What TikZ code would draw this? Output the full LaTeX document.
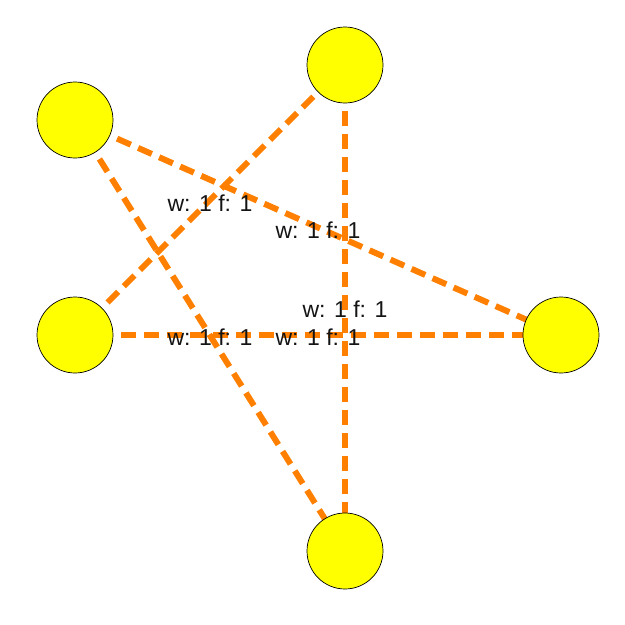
\documentclass[tikz,border=0pt]{standalone}
\usepackage{fontspec}
\setmainfont{Liberation Sans}
\definecolor{nodeyellow}{RGB}{255,255,0}
\definecolor{edgeorange}{RGB}{255,128,0}
\begin{document}
\begin{tikzpicture}[x=1pt,y=-1pt,
  vertex/.style={circle,draw=black,line width=0.7pt,fill=nodeyellow,minimum size=76pt,inner sep=0pt},
  edge/.style={draw=edgeorange,line width=6pt,dash pattern=on 15pt off 8pt},
  elabel/.style={font=\fontsize{23}{25}\selectfont,text={rgb,255:red,20;green,20;blue,20},inner sep=0pt}]
\useasboundingbox (0,0) rectangle (625,625);
\coordinate (pA) at (345,65);
\coordinate (pB) at (75,120);
\coordinate (pC) at (75,335);
\coordinate (pD) at (561,335);
\coordinate (pE) at (345,551);
\draw[edge] (pC) -- (pA);
\draw[edge] (pB) -- (pD);
\draw[edge] (pA) -- (pE);
\draw[edge] (pB) -- (pE);
\draw[edge] (pC) -- (pD);
\node[vertex] (A) at (pA) {};
\node[vertex] (B) at (pB) {};
\node[vertex] (C) at (pC) {};
\node[vertex] (D) at (pD) {};
\node[vertex] (E) at (pE) {};
\node[elabel] (l1) at (210,203) {w: 1 f: 1};
\node[elabel] (l2) at (318,230) {w: 1 f: 1};
\node[elabel] (l3) at (345,309) {w: 1 f: 1};
\node[elabel] (l4) at (210,337) {w: 1 f: 1};
\node[elabel] (l5) at (318,337) {w: 1 f: 1};
\end{tikzpicture}
\end{document}
